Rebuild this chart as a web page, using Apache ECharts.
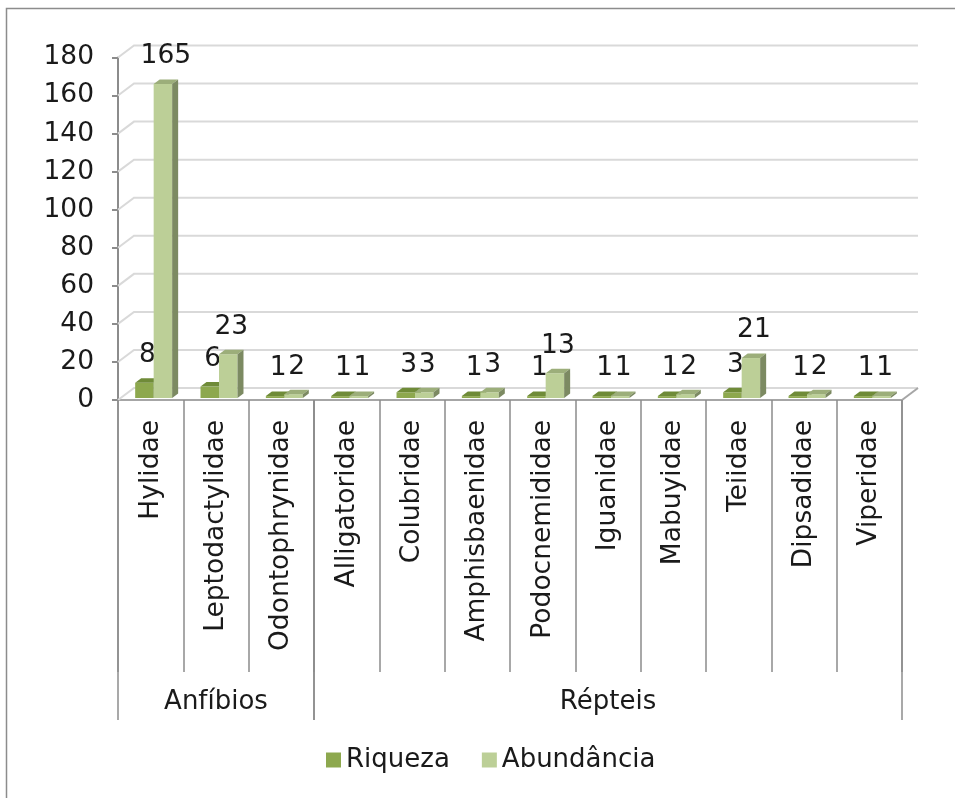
<!DOCTYPE html>
<html>
<head>
<meta charset="utf-8">
<script src="https://cdn.jsdelivr.net/npm/echarts@6/dist/echarts.min.js"></script>
<style>
  html, body { margin: 0; padding: 0; background: #fff; }
  #chart { width: 955px; height: 798px; }
</style>
</head>
<body>
<div id="chart"></div>
<script>
// Famílias amostradas e valores por família
const categories = ['Hylidae', 'Leptodactylidae', 'Odontophrynidae', 'Alligatoridae', 'Colubridae',
  'Amphisbaenidae', 'Podocnemididae', 'Iguanidae', 'Mabuyidae', 'Teiidae', 'Dipsadidae', 'Viperidae'];
const riqueza = [8, 6, 1, 1, 3, 1, 1, 1, 1, 3, 1, 1];
const abundancia = [165, 23, 2, 1, 3, 3, 13, 1, 2, 21, 2, 1];

// Grupos taxonômicos (número de famílias em cada grupo, na ordem acima)
const grupos = ['Anfíbios', 'Répteis'];
const gruposTamanho = [3, 9];

// Linhas de grade do eixo Y
const yTicks = [0, 20, 40, 60, 80, 100, 120, 140, 160, 180];

const FONT = 'DejaVu Sans';
const TEXT = '#1a1a1a';
const FS = 26.5;
// Profundidade das paredes (perspectiva 3D)
const WALL_DX = 16, WALL_DY = -12;
// Deslocamento e profundidade das colunas
const BAR_SX = 3, BAR_SY = -2, BAR_DX = 6, BAR_DY = -4.5;

const palette = {
  riqueza: { front: '#8da84e', top: '#6f8b38', side: '#5e762e' },
  abundancia: { front: '#bccf97', top: '#9cae7a', side: '#7c8a62' }
};

function wallRender(params, api) {
  const cs = params.coordSys;
  const v = api.value(1);
  const y = api.coord([0, v])[1];
  const x0 = cs.x, x1 = cs.x + cs.width;
  const children = [{
    type: 'polyline',
    shape: { points: [[x0, y], [x0 + WALL_DX, y + WALL_DY], [x1 + WALL_DX, y + WALL_DY]] },
    style: { stroke: '#d9d9d9', lineWidth: 2, fill: null }
  }];
  if (v === 0) {
    children.push({
      type: 'line',
      shape: { x1: x1, y1: y, x2: x1 + WALL_DX, y2: y + WALL_DY },
      style: { stroke: '#a6a6a6', lineWidth: 2 }
    });
  }
  return { type: 'group', children: children };
}

function barRender(which, colors) {
  return function (params, api) {
    const i = api.value(0), v = api.value(1);
    const base = api.coord([i, 0]);
    const top = api.coord([i, v]);
    const band = api.size([1, 0])[0];
    const w = band * 0.283;
    const x0 = base[0] + BAR_SX - (which === 0 ? w : 0);
    const x1 = x0 + w;
    const yb = base[1] + BAR_SY;
    const yt = top[1] + BAR_SY;
    return {
      type: 'group',
      children: [
        { type: 'rect', shape: { x: x0, y: yt, width: w, height: yb - yt }, style: { fill: colors.front } },
        { type: 'polygon', shape: { points: [[x0, yt], [x1, yt], [x1 + BAR_DX, yt + BAR_DY], [x0 + BAR_DX, yt + BAR_DY]] },
          style: { fill: colors.top } },
        { type: 'polygon', shape: { points: [[x1, yt], [x1 + BAR_DX, yt + BAR_DY], [x1 + BAR_DX, yb + BAR_DY], [x1, yb]] },
          style: { fill: colors.side } },
        { type: 'text', z2: 50,
          style: { x: x0 + w / 2 + BAR_DX / 2, y: yt + BAR_DY - 23, text: String(v),
            font: FS + 'px "' + FONT + '"', fill: TEXT, align: 'center', verticalAlign: 'middle' } }
      ]
    };
  };
}

// Intervalos [início, fim) de cada grupo em índices de categoria
const gruposIntervalos = [];
{
  let s = 0;
  gruposTamanho.forEach(n => { gruposIntervalos.push([s, s + n]); s += n; });
}

function groupRender(params, api) {
  const band = api.size([1, 0])[0];
  const a = api.value(0), b = api.value(1);
  const y0 = api.coord([0, 0])[1];
  const xa = api.coord([a, 0])[0] - band / 2;
  const xb = api.coord([b - 1, 0])[0] + band / 2;
  const yEnd = 720;
  return {
    type: 'group',
    children: [
      { type: 'line', shape: { x1: xa, y1: y0, x2: xa, y2: yEnd }, style: { stroke: '#8c8c8c', lineWidth: 1.5 } },
      { type: 'line', shape: { x1: xb, y1: y0, x2: xb, y2: yEnd }, style: { stroke: '#8c8c8c', lineWidth: 1.5 } },
      { type: 'text', style: { x: (xa + xb) / 2, y: 702, text: grupos[params.dataIndex],
          font: '26px "' + FONT + '"', fill: TEXT, align: 'center', verticalAlign: 'middle' } }
    ]
  };
}

const chart = echarts.init(document.getElementById('chart'));
chart.setOption({
  animation: false,
  backgroundColor: '#ffffff',
  textStyle: { fontFamily: FONT },
  graphic: [{
    type: 'rect', z: -10,
    shape: { x: 6.5, y: 8.5, width: 1000, height: 1000 },
    style: { fill: '#ffffff', stroke: '#8c8c8c', lineWidth: 1.5 }
  }],
  grid: { left: 118, right: 53, top: 57.5, bottom: 398 },
  legend: {
    left: 326, top: 747, padding: 0,
    icon: 'rect', itemWidth: 15, itemHeight: 15, itemGap: 32,
    textStyle: { fontSize: 26, color: TEXT, fontFamily: FONT },
    data: ['Riqueza', 'Abundância']
  },
  xAxis: {
    type: 'category',
    data: categories,
    axisLine: { show: true, lineStyle: { color: '#a6a6a6', width: 2 } },
    axisTick: { show: true, interval: 0, length: 272, lineStyle: { color: '#8c8c8c', width: 1.5 } },
    axisLabel: { interval: 0, rotate: 90, margin: 20, fontSize: FS, color: TEXT, fontFamily: FONT },
    splitLine: { show: false }
  },
  yAxis: {
    type: 'value', min: 0, max: 180, interval: 20,
    axisLine: { show: true, lineStyle: { color: '#8c8c8c', width: 2 } },
    axisTick: { show: true, length: 6, lineStyle: { color: '#8c8c8c', width: 2 } },
    axisLabel: { margin: 24, fontSize: FS, color: TEXT, fontFamily: FONT },
    splitLine: { show: false }
  },
  series: [
    { type: 'custom', name: 'grade', silent: true, z: 1, clip: false,
      renderItem: wallRender, data: yTicks.map(v => [0, v]) },
    { type: 'custom', name: 'grupos', silent: true, z: 1, clip: false,
      renderItem: groupRender, data: gruposIntervalos },
    { type: 'custom', name: 'Riqueza', z: 2, clip: false,
      itemStyle: { color: palette.riqueza.front },
      renderItem: barRender(0, palette.riqueza), data: riqueza.map((v, i) => [i, v]) },
    { type: 'custom', name: 'Abundância', z: 3, clip: false,
      itemStyle: { color: palette.abundancia.front },
      renderItem: barRender(1, palette.abundancia), data: abundancia.map((v, i) => [i, v]) }
  ]
});
</script>
</body>
</html>
